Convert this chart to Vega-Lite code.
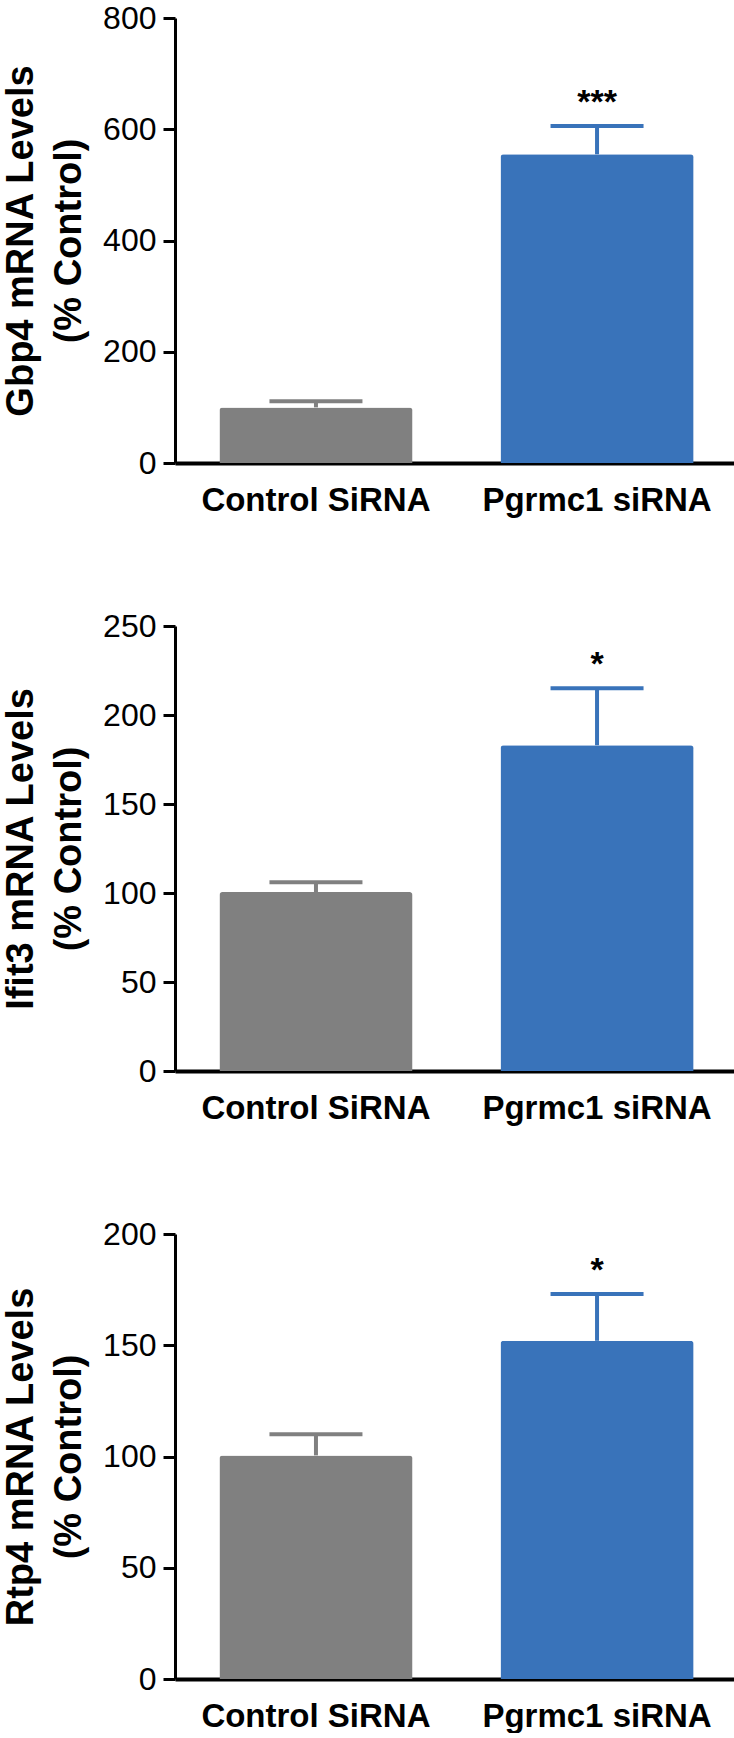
{
  "$schema": "https://vega.github.io/schema/vega-lite/v6.json",
  "padding": {"left": 2, "top": 2, "right": 0, "bottom": 0},
  "background": "white",
  "spacing": 93,
  "config": {
    "font": "Liberation Sans",
    "view": {"stroke": null},
    "axisY": {
      "domainColor": "black", "domainWidth": 3, "tickColor": "black", "tickWidth": 3, "tickSize": 12,
      "labelFontSize": 32, "labelColor": "black", "labelPadding": 7, "labelFontWeight": "normal",
      "grid": false, "titleFontSize": 38, "titleFontWeight": "bold", "titleColor": "black",
      "titleLineHeight": 48, "titlePadding": 14, "titleLimit": 0
    },
    "axisX": {
      "domainColor": "black", "domainWidth": 4, "ticks": false, "tickSize": 0,
      "labelFontSize": 33, "labelFontWeight": "bold", "labelColor": "black", "labelPadding": 21,
      "labelAngle": 0, "labelLimit": 0, "title": null, "grid": false
    }
  },
  "data": {
    "values": [
      {"panel": "Gbp4", "group": "Control SiRNA", "mean": 100, "upper": 111, "sig": ""},
      {"panel": "Gbp4", "group": "Pgrmc1 siRNA", "mean": 555, "upper": 606, "sig": "***"},
      {"panel": "Ifit3", "group": "Control SiRNA", "mean": 100.5, "upper": 106, "sig": ""},
      {"panel": "Ifit3", "group": "Pgrmc1 siRNA", "mean": 183, "upper": 215, "sig": "*"},
      {"panel": "Rtp4", "group": "Control SiRNA", "mean": 100.5, "upper": 110, "sig": ""},
      {"panel": "Rtp4", "group": "Pgrmc1 siRNA", "mean": 152, "upper": 173, "sig": "*"}
    ]
  },
  "vconcat": [
    {
      "width": 563, "height": 445,
      "transform": [{"filter": "datum.panel === 'Gbp4'"}],
      "encoding": {
        "x": {"field": "group", "type": "nominal", "sort": null,
              "scale": {"paddingInner": 0.313, "paddingOuter": 0.158}, "axis": {"title": null}},
        "color": {"field": "group", "type": "nominal", "legend": null,
                  "scale": {"domain": ["Control SiRNA", "Pgrmc1 siRNA"], "range": ["#808080", "#3973ba"]}}
      },
      "layer": [
        {"mark": {"type": "rule", "strokeWidth": 4, "opacity": 1},
         "encoding": {"y": {"field": "mean", "type": "quantitative"}, "y2": {"field": "upper"}}},
        {"mark": {"type": "tick", "size": 93, "thickness": 4, "opacity": 1},
         "encoding": {"y": {"field": "upper", "type": "quantitative"}}},
        {"mark": {"type": "bar", "cornerRadiusTopLeft": 3, "cornerRadiusTopRight": 3},
         "encoding": {"y": {"field": "mean", "type": "quantitative",
                            "scale": {"domain": [0, 800], "nice": false},
                            "axis": {"values": [0, 200, 400, 600, 800], "title": ["Gbp4 mRNA Levels", "(% Control)"]}}}},
        {"mark": {"type": "text", "fontSize": 34, "fontWeight": "bold", "baseline": "alphabetic", "dy": -13, "color": "black"},
         "encoding": {"y": {"field": "upper", "type": "quantitative"}, "text": {"field": "sig"}, "color": {"value": "black"}}}
      ]
    },
    {
      "width": 563, "height": 445,
      "transform": [{"filter": "datum.panel === 'Ifit3'"}],
      "encoding": {
        "x": {"field": "group", "type": "nominal", "sort": null,
              "scale": {"paddingInner": 0.313, "paddingOuter": 0.158}, "axis": {"title": null}},
        "color": {"field": "group", "type": "nominal", "legend": null,
                  "scale": {"domain": ["Control SiRNA", "Pgrmc1 siRNA"], "range": ["#808080", "#3973ba"]}}
      },
      "layer": [
        {"mark": {"type": "rule", "strokeWidth": 4, "opacity": 1},
         "encoding": {"y": {"field": "mean", "type": "quantitative"}, "y2": {"field": "upper"}}},
        {"mark": {"type": "tick", "size": 93, "thickness": 4, "opacity": 1},
         "encoding": {"y": {"field": "upper", "type": "quantitative"}}},
        {"mark": {"type": "bar", "cornerRadiusTopLeft": 3, "cornerRadiusTopRight": 3},
         "encoding": {"y": {"field": "mean", "type": "quantitative",
                            "scale": {"domain": [0, 250], "nice": false},
                            "axis": {"values": [0, 50, 100, 150, 200, 250], "title": ["Ifit3 mRNA Levels", "(% Control)"]}}}},
        {"mark": {"type": "text", "fontSize": 34, "fontWeight": "bold", "baseline": "alphabetic", "dy": -13, "color": "black"},
         "encoding": {"y": {"field": "upper", "type": "quantitative"}, "text": {"field": "sig"}, "color": {"value": "black"}}}
      ]
    },
    {
      "width": 563, "height": 445,
      "transform": [{"filter": "datum.panel === 'Rtp4'"}],
      "encoding": {
        "x": {"field": "group", "type": "nominal", "sort": null,
              "scale": {"paddingInner": 0.313, "paddingOuter": 0.158}, "axis": {"title": null}},
        "color": {"field": "group", "type": "nominal", "legend": null,
                  "scale": {"domain": ["Control SiRNA", "Pgrmc1 siRNA"], "range": ["#808080", "#3973ba"]}}
      },
      "layer": [
        {"mark": {"type": "rule", "strokeWidth": 4, "opacity": 1},
         "encoding": {"y": {"field": "mean", "type": "quantitative"}, "y2": {"field": "upper"}}},
        {"mark": {"type": "tick", "size": 93, "thickness": 4, "opacity": 1},
         "encoding": {"y": {"field": "upper", "type": "quantitative"}}},
        {"mark": {"type": "bar", "cornerRadiusTopLeft": 3, "cornerRadiusTopRight": 3},
         "encoding": {"y": {"field": "mean", "type": "quantitative",
                            "scale": {"domain": [0, 200], "nice": false},
                            "axis": {"values": [0, 50, 100, 150, 200], "title": ["Rtp4 mRNA Levels", "(% Control)"]}}}},
        {"mark": {"type": "text", "fontSize": 34, "fontWeight": "bold", "baseline": "alphabetic", "dy": -13, "color": "black"},
         "encoding": {"y": {"field": "upper", "type": "quantitative"}, "text": {"field": "sig"}, "color": {"value": "black"}}}
      ]
    }
  ]
}
